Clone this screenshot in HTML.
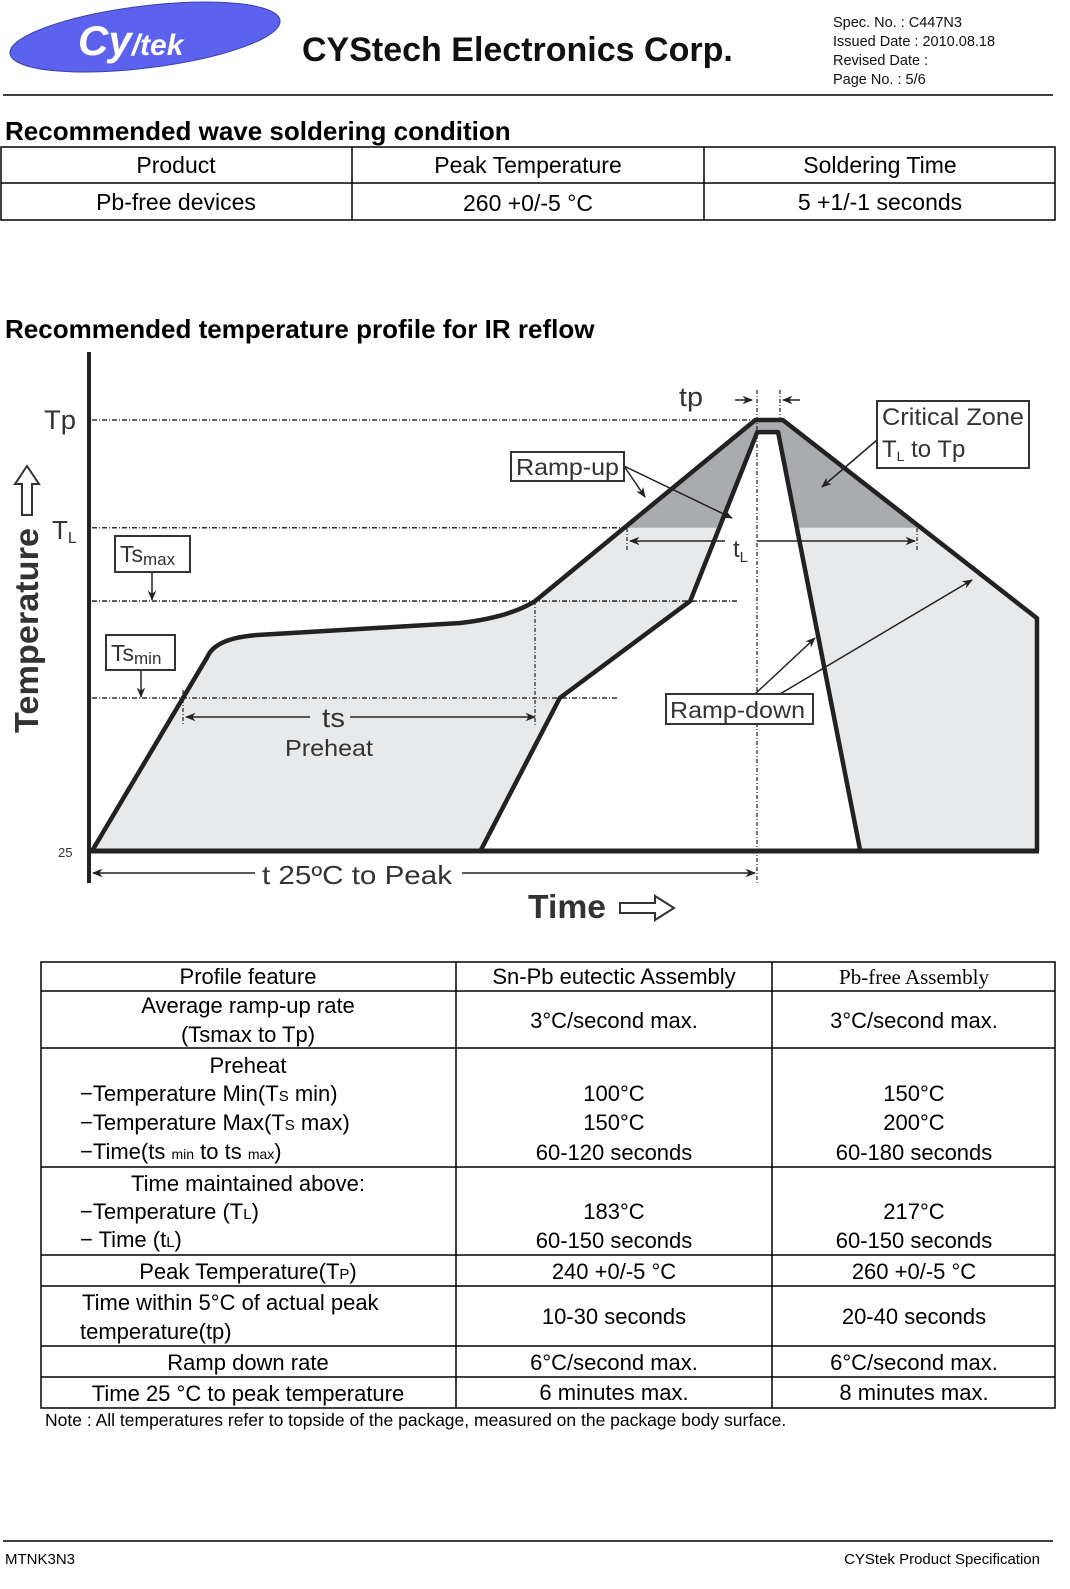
<!DOCTYPE html>
<html><head><meta charset="utf-8"><style>
html,body{margin:0;padding:0;background:#fff;width:1070px;height:1589px;overflow:hidden}
svg{display:block;font-family:"Liberation Sans",sans-serif}
</style></head><body>
<svg id="page" width="1070" height="1589" viewBox="0 0 1070 1589" xmlns="http://www.w3.org/2000/svg">
<defs>
<marker id="ah" viewBox="0 0 10 10" refX="9" refY="5" markerWidth="7" markerHeight="7" orient="auto-start-reverse"><path d="M0,1 L10,5 L0,9 L3,5 z" fill="#222"/></marker>
</defs>
<g>
<ellipse cx="145" cy="37" rx="136" ry="31" transform="rotate(-7 145 37)" fill="#5d62ee" stroke="#3a3fb0" stroke-width="1"/>
<text x="78" y="55" font-size="42" font-weight="bold" fill="#fff" font-style="italic">Cy<tspan font-size="30">/tek</tspan></text>
<text x="302" y="61" font-size="34" font-weight="bold" fill="#111">CYStech Electronics Corp.</text>
<g font-size="14.5" fill="#111">
<text x="833" y="27">Spec. No. : C447N3</text>
<text x="833" y="46">Issued Date : 2010.08.18</text>
<text x="833" y="65">Revised Date :</text>
<text x="833" y="84">Page No. : 5/6</text>
</g>
<line x1="3" y1="95" x2="1053" y2="95" stroke="#000" stroke-width="1.5"/>
</g>
<text x="5" y="140" font-size="26" font-weight="bold" fill="#000">Recommended wave soldering condition</text>
<g stroke="#000" stroke-width="1.5" fill="none">
<rect x="1" y="147" width="1054" height="73"/>
<line x1="1" y1="183" x2="1055" y2="183"/>
<line x1="352" y1="147" x2="352" y2="220"/>
<line x1="704" y1="147" x2="704" y2="220"/>
</g>
<g font-size="23" fill="#000" text-anchor="middle">
<text x="176" y="173">Product</text><text x="528" y="173">Peak Temperature</text><text x="880" y="173">Soldering Time</text>
<text x="176" y="210">Pb-free devices</text><text x="528" y="211">260  +0/-5 °C</text><text x="880" y="210">5 +1/-1 seconds</text>
</g>
<text x="5" y="338" font-size="26" font-weight="bold" fill="#000">Recommended temperature profile for IR reflow</text>

<g id="chart"></g>

<g stroke="#000" stroke-width="1.5" fill="none">
<rect x="41" y="962" width="1014" height="446"/>
<line x1="456" y1="962" x2="456" y2="1408"/><line x1="772" y1="962" x2="772" y2="1408"/>
<line x1="41" y1="991" x2="1055" y2="991"/><line x1="41" y1="1048" x2="1055" y2="1048"/>
<line x1="41" y1="1167" x2="1055" y2="1167"/><line x1="41" y1="1255" x2="1055" y2="1255"/>
<line x1="41" y1="1286" x2="1055" y2="1286"/><line x1="41" y1="1346" x2="1055" y2="1346"/>
<line x1="41" y1="1377" x2="1055" y2="1377"/>
</g>
<g font-size="22" fill="#000">
<g text-anchor="middle">
<text x="248" y="984">Profile feature</text><text x="614" y="984">Sn-Pb eutectic Assembly</text>
<text x="914" y="984" font-family="Liberation Serif,serif" font-size="21">Pb-free Assembly</text>
<text x="248" y="1013">Average ramp-up rate</text><text x="248" y="1042">(Tsmax to Tp)</text>
<text x="614" y="1028">3°C/second max.</text><text x="914" y="1028">3°C/second max.</text>
<text x="248" y="1073">Preheat</text>
<text x="614" y="1101">100°C</text><text x="614" y="1130">150°C</text><text x="614" y="1160">60-120 seconds</text>
<text x="914" y="1101">150°C</text><text x="914" y="1130">200°C</text><text x="914" y="1160">60-180 seconds</text>
<text x="248" y="1191">Time maintained above:</text>
<text x="614" y="1219">183°C</text><text x="614" y="1248">60-150 seconds</text>
<text x="914" y="1219">217°C</text><text x="914" y="1248">60-150 seconds</text>
<text x="248" y="1279">Peak Temperature(T<tspan font-size="15">P</tspan>)</text>
<text x="614" y="1279">240  +0/-5 °C</text><text x="914" y="1279">260  +0/-5 °C</text>
<text x="614" y="1324">10-30 seconds</text><text x="914" y="1324">20-40 seconds</text>
<text x="248" y="1370">Ramp down rate</text><text x="614" y="1370">6°C/second max.</text><text x="914" y="1370">6°C/second max.</text>
<text x="248" y="1401">Time 25 °C to peak temperature</text><text x="614" y="1400">6 minutes max.</text><text x="914" y="1400">8 minutes max.</text>
</g>
<text x="80" y="1101">−Temperature Min(T<tspan font-size="15">S</tspan> min)</text>
<text x="80" y="1130">−Temperature Max(T<tspan font-size="15">S</tspan> max)</text>
<text x="80" y="1159">−Time(ts <tspan font-size="14">min</tspan> to ts <tspan font-size="14">max</tspan>)</text>
<text x="80" y="1219">−Temperature (T<tspan font-size="15">L</tspan>)</text>
<text x="80" y="1247">− Time (t<tspan font-size="15">L</tspan>)</text>
<text x="82" y="1310">Time within 5°C of actual peak</text>
<text x="80" y="1339">temperature(tp)</text>
</g>
<text x="45" y="1426" font-size="17.5" fill="#000">Note : All temperatures refer to topside of the package, measured on the package body surface.</text>
<line x1="3" y1="1541" x2="1053" y2="1541" stroke="#000" stroke-width="1.5"/>
<text x="5" y="1564" font-size="15" fill="#000">MTNK3N3</text>
<text x="1040" y="1564" font-size="15" fill="#000" text-anchor="end">CYStek Product Specification</text>
</svg>
<script>
const levelNames = ["Tp","TL","Tsmax","Tsmin"];
const levelValues = [100, 75, 58, 35.5];
const outerTime = [0, 12.2, 46.9, 70.2, 73.1, 100, 100];
const outerTemp = [0, 45, 58, 100, 100, 54, 0];
const innerTime = [41.1, 49.5, 63.3, 70.4, 72.6, 81.3];
const innerTemp = [0, 35.5, 58, 97.2, 97.2, 0];

const NS="http://www.w3.org/2000/svg";
const X = t => 92 + t*9.45;
const Y = v => 851 - v*4.31;
const g = document.getElementById('chart');
function mk(tag, attrs, parent){const e=document.createElementNS(NS,tag);for(const k in attrs)e.setAttribute(k,attrs[k]);(parent||g).appendChild(e);return e;}

function outerD(){
  const x1=X(outerTime[1]), y1=Y(outerTemp[1]), x2=X(outerTime[2]), y2=Y(outerTemp[2]);
  let d=`M${X(outerTime[0])},${Y(outerTemp[0])} L${x1},${y1}`;
  d+=` Q${x1+8},${y1-19} ${x1+50},${y1-22} L${x2-75},${y2+22} Q${x2-25},${y2+16} ${x2},${y2}`;
  for(let i=3;i<outerTime.length;i++) d+=` L${X(outerTime[i])},${Y(outerTemp[i])}`;
  return d;
}
function innerD(){
  let d='';
  innerTime.forEach((t,i)=>{d+=(i?' L':'M')+X(t)+','+Y(innerTemp[i]);});
  return d;
}
const lightArea = mk('path',{d:outerD()+' Z '+innerD()+' Z','fill-rule':'evenodd',fill:'#e8e9eb'});



function xAt(ts,vs,i,v){return ts[i]+(ts[i+1]-ts[i])*(v-vs[i])/(vs[i+1]-vs[i]);}
const TL = levelValues[1];
const oL = xAt(outerTime,outerTemp,2,TL), oR = xAt(outerTime,outerTemp,4,TL);
const iL = xAt(innerTime,innerTemp,2,TL), iR = xAt(innerTime,innerTemp,4,TL);
const crit = mk('path',{d:`M${X(oL)},${Y(TL)} L${X(outerTime[3])},${Y(outerTemp[3])} L${X(outerTime[4])},${Y(outerTemp[4])} L${X(oR)},${Y(TL)} L${X(iR)},${Y(TL)} L${X(innerTime[4])},${Y(innerTemp[4])} L${X(innerTime[3])},${Y(innerTemp[3])} L${X(iL)},${Y(TL)} Z`,fill:'#a9abae'});



const levelEnds=[755,627,738,617];
levelValues.forEach((v,i)=>{
  const l=mk('line',{x1:92,y1:Y(v),x2:levelEnds[i],y2:Y(v),stroke:'#333','stroke-width':1.6,'stroke-dasharray':'5,2,1,2'});
  
  
});
[[757,390,885],[780,390,420],[535,601,725],[183,690,725],[627,528,552],[917,528,552]].forEach(a=>{
  mk('line',{x1:a[0],y1:a[1],x2:a[0],y2:a[2],stroke:'#333','stroke-width':1.3,'stroke-dasharray':'4,2,1,2'});
});

const outerLine = mk('path',{d:outerD(),fill:'none',stroke:'#222','stroke-width':4.5,'stroke-linejoin':'round'});


const innerLine = mk('path',{d:innerD(),fill:'none',stroke:'#222','stroke-width':4.5,'stroke-linejoin':'round'});



const yAxis = mk('line',{x1:89,y1:352,x2:89,y2:883,stroke:'#222','stroke-width':4});


const xAxis = mk('line',{x1:87,y1:851,x2:1039,y2:851,stroke:'#222','stroke-width':5});



[[735,400,752,400],[800,400,783,400],[725,541,630,541],[757,541,915,541],[310,717,186,717],[350,717,535,717],[255,873,93,873],[462,873,755,873],
 [624,466,645,497],[624,466,732,518],[877,440,822,487],[755,694,815,638],[780,694,972,580],[152,572,152,600],[141,670,141,697]].forEach(a=>{
  mk('line',{x1:a[0],y1:a[1],x2:a[2],y2:a[3],stroke:'#222','stroke-width':1.5,'marker-end':'url(#ah)'});
});

[[511,452,113,29],[877,401,152,67],[115,536,75,36],[106,635,69,35],[666,694,147,30]].forEach(b=>{
  mk('rect',{x:b[0],y:b[1],width:b[2],height:b[3],fill:'#fff',stroke:'#333','stroke-width':2});
});

function txt(s,x,y,size,attrs){const e=mk('text',Object.assign({x:x,y:y,'font-size':size,fill:'#333'},attrs||{}));if(attrs&&attrs.textLength)e.setAttribute('lengthAdjust','spacingAndGlyphs');e.textContent=s;return e;}
txt('Tp',44,429,27,{textLength:32});
const tl=txt('T',52,539,26);const sub=mk('tspan',{'font-size':16,dy:4},tl);sub.textContent='L';
txt('25',58,857,13);
txt('tp',679,406,27,{textLength:24});
txt('Ramp-up',516,475,23,{textLength:103});
txt('Critical Zone',882,425,24,{textLength:142});
const t2=txt('T',882,457,24);const s2=mk('tspan',{'font-size':14,dy:4},t2);s2.textContent='L';const s3=mk('tspan',{dy:-4},t2);s3.textContent=' to Tp';
const ts1=txt('Ts',120,562,23);const ts1s=mk('tspan',{'font-size':17,dy:3},ts1);ts1s.textContent='max';
const ts2=txt('Ts',111,661,23);const ts2s=mk('tspan',{'font-size':17,dy:3},ts2);ts2s.textContent='min';
txt('Ramp-down',670,718,23,{textLength:135});
txt('ts',322,727,27,{textLength:23});
txt('Preheat',285,756,23,{textLength:88});
const tL=txt('t',733,557,24);const tLs=mk('tspan',{'font-size':15,dy:5},tL);tLs.textContent='L';
txt('t  25ºC to Peak',262,884,26,{textLength:190});
const timeLbl=txt('Time',528,918,33,{'font-weight':'bold',textLength:78});


mk('path',{d:'M620,903 L655,903 L655,896 L674,908 L655,920 L655,913 L620,913 Z',fill:'#fff',stroke:'#333','stroke-width':2});
const tempLbl=txt('Temperature',0,0,33,{'font-weight':'bold',transform:'translate(38,733) rotate(-90)',textLength:205});


mk('path',{d:'M22,515 L22,484 L15,484 L27,466 L39,484 L32,484 L32,515 Z',fill:'#fff',stroke:'#333','stroke-width':2});
</script>
</body></html>
